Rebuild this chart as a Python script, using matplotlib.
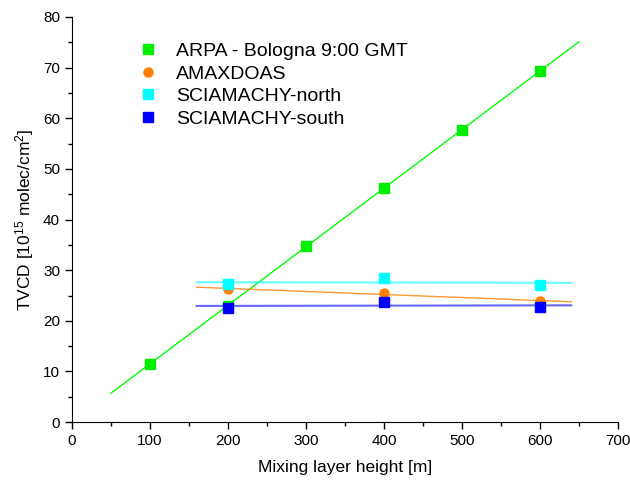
import numpy as np
import matplotlib.pyplot as plt
from matplotlib.ticker import MultipleLocator

plt.rcParams['font.family'] = ['Liberation Sans', 'DejaVu Sans']
plt.rcParams['mathtext.default'] = 'regular'

arpa_x = [100, 200, 300, 400, 500, 600]
arpa_y = [11.5, 22.9, 34.8, 46.2, 57.7, 69.3]

sat_x = [200, 400, 600]
amax_y = [26.3, 25.4, 23.9]
north_y = [27.2, 28.4, 27.1]
south_y = [22.6, 23.7, 22.7]

arpa_range = [50, 650]
sat_range = [160, 640]

fig = plt.figure(figsize=(6.3, 4.83), dpi=100)
ax = fig.add_axes([0.114, 0.126, 0.867, 0.839])

def fit_line(x, y, rng):
    k, d = np.polyfit(x, y, 1)
    xs = np.array(rng)
    return xs, k * xs + d

# Regressionsgeraden
xs, ys = fit_line(arpa_x, arpa_y, arpa_range)
ax.plot(xs, ys, color='#00ff00', lw=1.0, zorder=2)
xs, ys = fit_line(sat_x, amax_y, sat_range)
ax.plot(xs, ys, color='#ff8000', lw=1.0, alpha=0.8, zorder=2)
xs, ys = fit_line(sat_x, north_y, sat_range)
ax.plot(xs, ys, color='#00ffff', lw=1.5, alpha=0.6, zorder=2)
xs, ys = fit_line(sat_x, south_y, sat_range)
ax.plot(xs, ys, color='#0000ff', lw=1.5, alpha=0.6, zorder=2)

# Messpunkte
ms = 6.5
ax.plot(arpa_x, arpa_y, 's', color='#00ee00', mec='#00ee00', ms=ms,
        label='ARPA - Bologna 9:00 GMT', zorder=3)
ax.plot(sat_x, amax_y, 'o', color='#ff8000', mec='#ff8000', ms=ms,
        label='AMAXDOAS', zorder=3)
ax.plot(sat_x, north_y, 's', color='#00ffff', mec='#00ffff', ms=ms,
        label='SCIAMACHY-north', zorder=4)
ax.plot(sat_x, south_y, 's', color='#0000ff', mec='#0000ff', ms=ms,
        label='SCIAMACHY-south', zorder=4)

ax.set_xlim(0, 700)
ax.set_ylim(0, 80)
ax.xaxis.set_major_locator(MultipleLocator(100))
ax.xaxis.set_minor_locator(MultipleLocator(50))
ax.yaxis.set_major_locator(MultipleLocator(10))
ax.yaxis.set_minor_locator(MultipleLocator(5))
ax.spines['top'].set_visible(False)
ax.spines['right'].set_visible(False)
ax.tick_params(which='major', direction='out', length=5, width=1, labelsize=11)
ax.tick_params(which='minor', direction='out', length=3, width=1)

ax.set_xlabel('Mixing layer height [m]', fontsize=12.5, labelpad=9)
ax.set_ylabel(r'TVCD [10$^{15}$ molec/cm$^{2}$]', fontsize=12.5, labelpad=5)

ax.legend(loc='upper left', bbox_to_anchor=(0.08, 0.98), frameon=False,
          fontsize=14, handletextpad=0.7, labelspacing=0.25, handlelength=1.5)

plt.savefig('out.png', dpi=100)
